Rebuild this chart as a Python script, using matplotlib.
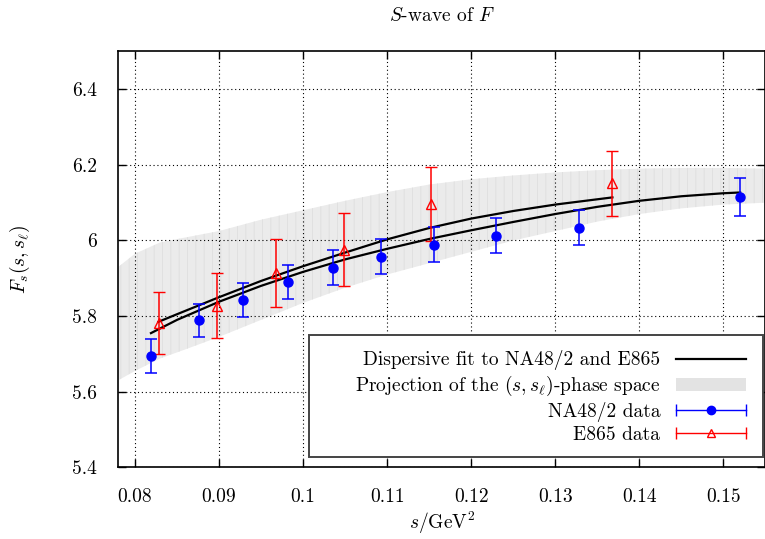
import numpy as np
import matplotlib
matplotlib.use('Agg')
import matplotlib.pyplot as plt
from matplotlib.lines import Line2D
from matplotlib.patches import Patch, Rectangle
from matplotlib.legend_handler import HandlerBase

# NA48/2 data
na48_s = [0.0819, 0.0876, 0.0929, 0.0982, 0.1036, 0.1093, 0.1156, 0.1230, 0.1328, 0.1520]
na48_F = [5.695, 5.789, 5.842, 5.891, 5.928, 5.957, 5.989, 6.013, 6.034, 6.114]
na48_err = [0.045, 0.044, 0.045, 0.045, 0.047, 0.046, 0.047, 0.046, 0.047, 0.050]

# E865 data
e865_s = [0.0828, 0.0897, 0.0968, 0.1049, 0.1152, 0.1368]
e865_F = [5.782, 5.827, 5.915, 5.976, 6.096, 6.151]
e865_err = [0.082, 0.086, 0.090, 0.096, 0.098, 0.087]

# dispersive fit curves
fit1_s = [0.0828, 0.085, 0.090, 0.095, 0.100, 0.105, 0.110, 0.115, 0.120, 0.125, 0.130, 0.1368]
fit1_F = [5.785, 5.805, 5.850, 5.893, 5.932, 5.968, 6.003, 6.033, 6.058, 6.078, 6.095, 6.114]
fit2_s = [0.0819, 0.085, 0.090, 0.095, 0.100, 0.105, 0.110, 0.115, 0.120, 0.125, 0.130,
          0.135, 0.140, 0.145, 0.150, 0.152]
fit2_F = [5.755, 5.790, 5.838, 5.880, 5.917, 5.950, 5.978, 6.004, 6.027, 6.049, 6.070,
          6.089, 6.105, 6.117, 6.125, 6.127]

# projection of the phase space (band)
band_s = [0.078, 0.080, 0.083, 0.086, 0.090, 0.095, 0.100, 0.105, 0.110, 0.115, 0.120,
          0.125, 0.130, 0.135, 0.140, 0.145, 0.150, 0.155]
band_lo = [5.630, 5.655, 5.688, 5.712, 5.745, 5.790, 5.835, 5.875, 5.910, 5.940, 5.970,
           6.000, 6.025, 6.050, 6.070, 6.085, 6.095, 6.100]
band_hi = [5.930, 5.965, 5.995, 6.008, 6.025, 6.055, 6.080, 6.105, 6.128, 6.148, 6.162,
           6.172, 6.180, 6.186, 6.190, 6.192, 6.192, 6.190]

xticks = [0.08, 0.09, 0.10, 0.11, 0.12, 0.13, 0.14, 0.15]
xticklabels = ['0.08', '0.09', '0.1', '0.11', '0.12', '0.13', '0.14', '0.15']
yticks = [5.4, 5.6, 5.8, 6.0, 6.2, 6.4]
yticklabels = ['5.4', '5.6', '5.8', '6', '6.2', '6.4']

plt.rcParams['font.family'] = 'serif'
plt.rcParams['font.serif'] = ['cmr10', 'DejaVu Serif']
plt.rcParams['mathtext.fontset'] = 'cm'
plt.rcParams['axes.formatter.use_mathtext'] = True
plt.rcParams['font.size'] = 14
plt.rcParams['hatch.linewidth'] = 0.6


# gnuplot-like horizontal error bar in the legend
class HandlerHErr(HandlerBase):
    def create_artists(self, legend, orig_handle, xdescent, ydescent, width, height, fontsize, trans):
        c = orig_handle.get_color()
        y = height / 2 - ydescent
        x0, x1 = -xdescent, width - xdescent
        line = Line2D([x0, x1], [y, y], color=c, lw=1.0)
        caps = Line2D([x0, x1], [y, y], ls='none', marker='|', ms=8, mew=1.0, color=c)
        mk = Line2D([(x0 + x1) / 2], [y], ls='none', marker=orig_handle.get_marker(),
                    ms=orig_handle.get_markersize(), color=c,
                    markerfacecolor=orig_handle.get_markerfacecolor(), mew=1.0)
        for a in (line, caps, mk):
            a.set_transform(trans)
        return [line, caps, mk]


fig = plt.figure(figsize=(7.65, 5.39), dpi=100)
ax = fig.add_axes([0.1545, 0.133, 0.846, 0.7715])

# band drawn with faint vertical lines like the original
ax.fill_between(band_s, band_lo, band_hi, facecolor='#ebebeb', edgecolor='#dedede',
                hatch='||', lw=0, zorder=1)
ax.plot(fit1_s, fit1_F, color='black', lw=1.6, zorder=3)
ax.plot(fit2_s, fit2_F, color='black', lw=1.6, zorder=3)

ax.errorbar(na48_s, na48_F, yerr=na48_err, fmt='o', color='blue', ms=6.5,
            capsize=4, elinewidth=1.1, capthick=1.1, zorder=4)
ax.errorbar(e865_s, e865_F, yerr=e865_err, fmt='^', color='red', mfc='none', ms=7,
            mew=1.0, capsize=4, elinewidth=1.1, capthick=1.1, zorder=4)

ax.set_xlim(0.078, 0.155)
ax.set_ylim(5.4, 6.5)
ax.set_xticks(xticks)
ax.set_xticklabels(xticklabels)
ax.set_yticks(yticks)
ax.set_yticklabels(yticklabels)
ax.tick_params(axis='x', direction='in', top=True, length=6, width=1, labelsize=14, pad=15)
ax.tick_params(axis='y', direction='in', right=True, length=6, width=1, labelsize=14, pad=15)
ax.grid(True, color='black', linestyle=(0, (1, 2.5)), lw=0.8)
for sp in ax.spines.values():
    sp.set_linewidth(1.2)

ax.set_title('$S$-wave of $F$', fontsize=14, pad=22)
ax.set_xlabel('$s/\\mathrm{GeV}^2$', fontsize=14, labelpad=3)
ax.set_ylabel('$F_s(s,s_\\ell)$', fontsize=14, labelpad=29)

# legend box (gnuplot style: wide box, entries right aligned)
ax.add_patch(Rectangle((0.295, 0.025), 0.701, 0.293, transform=ax.transAxes,
                       facecolor='white', edgecolor='#444444', lw=1.4, zorder=5))

h_fit = Line2D([], [], color='black', lw=1.6)
h_band = Patch(facecolor='#e3e3e3', edgecolor='none')
h_na = Line2D([], [], color='blue', marker='o', ms=6, mfc='blue')
h_e8 = Line2D([], [], color='red', marker='^', ms=6, mfc='none')
leg = ax.legend([h_fit, h_band, h_na, h_e8],
                ['Dispersive fit to NA48/2 and E865', 'Projection of the $(s,s_\\ell)$-phase space',
                 'NA48/2 data', 'E865 data'],
                handler_map={h_na: HandlerHErr(), h_e8: HandlerHErr()},
                loc='lower right', bbox_to_anchor=(0.970, 0.056), borderaxespad=0,
                markerfirst=False, frameon=False, fontsize=14,
                handlelength=3.6, handletextpad=0.8, labelspacing=0.2,
                borderpad=0)
leg.set_zorder(6)

fig.savefig('out.png', dpi=100)
